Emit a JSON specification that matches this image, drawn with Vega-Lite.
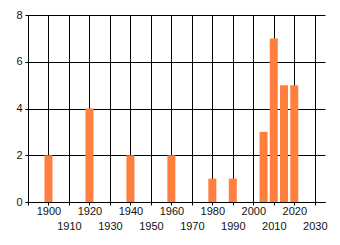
{
  "$schema": "https://vega.github.io/schema/vega-lite/v6.json",
  "width": 297,
  "height": 187,
  "autosize": "none",
  "padding": {"left": 28, "top": 15, "right": 15, "bottom": 43},
  "background": "white",
  "config": {
    "view": {"stroke": null},
    "axis": {
      "labelFont": "Liberation Sans",
      "labelFontSize": 11,
      "labelColor": "#111",
      "gridColor": "#000",
      "gridOpacity": 1,
      "gridWidth": 1,
      "domainColor": "#000",
      "domainWidth": 1,
      "tickColor": "#000",
      "tickWidth": 1,
      "title": null
    }
  },
  "data": {
    "values": [
      {"year": 1900, "count": 2},
      {"year": 1920, "count": 4},
      {"year": 1940, "count": 2},
      {"year": 1960, "count": 2},
      {"year": 1980, "count": 1},
      {"year": 1990, "count": 1},
      {"year": 2005, "count": 3},
      {"year": 2010, "count": 7},
      {"year": 2015, "count": 5},
      {"year": 2020, "count": 5}
    ]
  },
  "mark": {"type": "bar", "size": 8, "color": "#FF7F3F"},
  "encoding": {
    "x": {
      "field": "year",
      "type": "quantitative",
      "scale": {"domain": [1890, 2035], "nice": false, "zero": false, "padding": 0},
      "axis": {
        "values": [1890, 1900, 1910, 1920, 1930, 1940, 1950, 1960, 1970, 1980, 1990, 2000, 2010, 2020, 2030],
        "format": "d",
        "grid": true,
        "tickSize": 3,
        "labelPadding": 0,
        "labelOverlap": false,
        "labelFlush": false,
        "labelLineHeight": 15,
        "labelExpr": "datum.value == 1890 ? '' : (datum.value % 20 == 0 ? datum.label : ['', datum.label])"
      }
    },
    "y": {
      "field": "count",
      "type": "quantitative",
      "scale": {"domain": [0, 8], "nice": false, "padding": 0},
      "axis": {
        "values": [0, 2, 4, 6, 8],
        "grid": true,
        "tickSize": 3,
        "labelPadding": 3,
        "labelFlush": false
      }
    }
  }
}
